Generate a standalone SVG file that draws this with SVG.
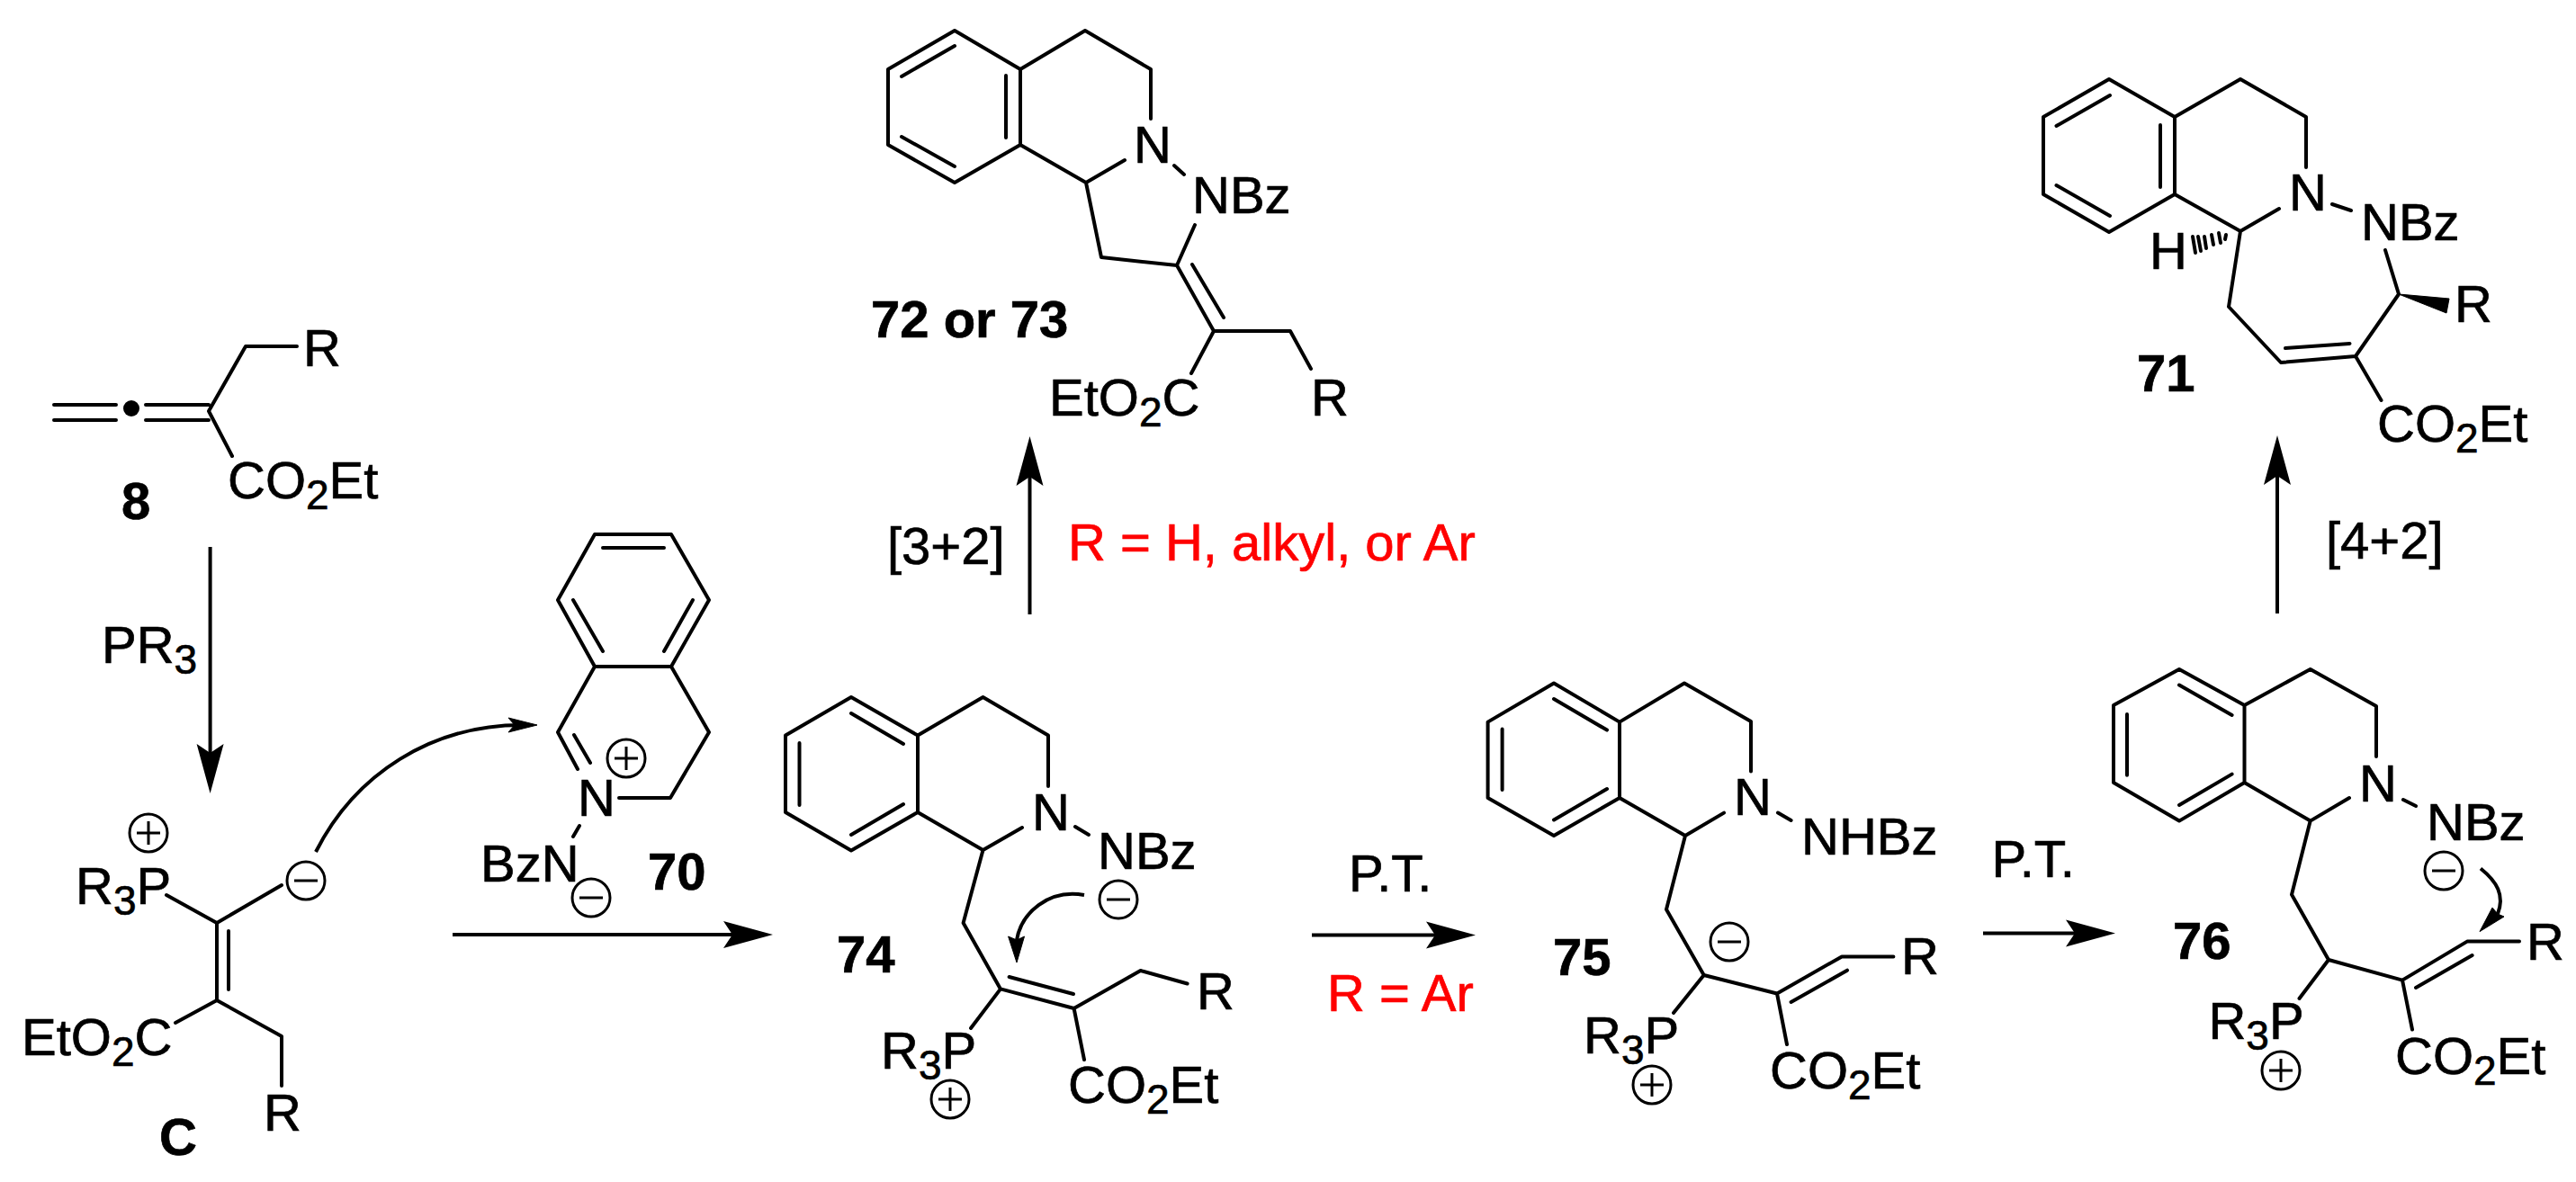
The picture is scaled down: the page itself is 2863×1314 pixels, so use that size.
<svg xmlns="http://www.w3.org/2000/svg" xmlns:xlink="http://www.w3.org/1999/xlink" width="2863" height="1314" viewBox="0 0 2863 1314">
<style>
.b{fill:none;stroke:#000;stroke-width:4;stroke-linecap:round;stroke-linejoin:round}
.a{fill:none;stroke:#000;stroke-width:4}
.h{fill:#000;stroke:#000;stroke-width:1;stroke-linejoin:miter}
.c{fill:none;stroke:#000;stroke-width:3}
text{font-family:"Liberation Sans",Arial,sans-serif;font-size:58px;fill:#000;stroke:#000;stroke-width:.7}
.n{font-weight:bold}
.r{fill:#ff0000;stroke:#ff0000}
.s{font-size:46px}
</style>
<defs>
<marker id="head" markerUnits="userSpaceOnUse" markerWidth="60" markerHeight="36" refX="10" refY="16" orient="auto" overflow="visible"><path d="M0,1 L55,16 L0,31 L10,16 Z" fill="#000"/></marker>
<g id="plus"><circle class="c" r="21"/><path class="c" d="M-13,0H13M0,-13V13"/></g>
<g id="minus"><circle class="c" r="21"/><path class="c" d="M-13,0H13" stroke-width="4"/></g>
</defs>
<rect width="2863" height="1314" fill="#fff"/>
<g id="connectors">
<line class="a" x1="233.6" y1="608" x2="233.6" y2="837" marker-end="url(#head)"/>
<line class="a" x1="503" y1="1039" x2="814" y2="1039" marker-end="url(#head)"/>
<line class="a" x1="1144.5" y1="683" x2="1144.5" y2="530" marker-end="url(#head)"/>
<line class="a" x1="2531" y1="682" x2="2531" y2="529" marker-end="url(#head)"/>
<line class="a" x1="1458" y1="1039.5" x2="1595" y2="1039.5" marker-end="url(#head)"/>
<line class="a" x1="2204" y1="1037.6" x2="2306" y2="1037.6" marker-end="url(#head)"/>
<path class="a" d="M351,947 C395,860 480,806 580,806"/>
<polygon class="h" points="565,798 597,806 565,814 572,806"/>
<path class="a" d="M1205,995 C1165,988 1135,1015 1130,1045"/>
<polygon class="h" points="1120.6,1041 1130,1045 1138.5,1041 1130,1070"/>
<path class="a" d="M2757,965.5 C2775,980 2784,995 2776,1016"/>
<polygon class="h" points="2770,1009 2776,1016 2783,1019 2756,1035.6"/>
</g>
<g id="compound-8">
<path class="b" d="M60,450H129M60,467H129M162,450H232M162,467H232M258,507L232,457L273,385H330"/>
<circle cx="146" cy="454" r="9" fill="#000"/>
<text x="337" y="407">R</text>
<text x="253" y="553.5">CO<tspan class="s" dy="12">2</tspan><tspan dy="-12">Et</tspan></text>
<text class="n" x="135" y="577">8</text>
</g>
<text id="label-pr3" x="113" y="736.5">PR<tspan class="s" dy="12">3</tspan></text>
<g id="compound-C">
<use xlink:href="#plus" href="#plus" x="165" y="926"/>
<text x="84" y="1005">R<tspan class="s" dy="12">3</tspan><tspan dy="-12">P</tspan></text>
<path class="b" d="M185,995L241,1026L313,984M241,1026V1112M254,1035V1100M195,1137L241,1112L313,1152V1207"/>
<use xlink:href="#minus" href="#minus" x="340" y="979"/>
<text x="24" y="1173">EtO<tspan class="s" dy="12">2</tspan><tspan dy="-12">C</tspan></text>
<text x="293" y="1257">R</text>
<text class="n" x="177" y="1284">C</text>
</g>
<g id="compound-70">
<path class="b" d="M661,594H746L788,667L746,741H661L620,667Z M670,609H738M637,667L670,724M770,667L738,724M661,741L620,814L642,855M638,817L656,848M746,741L788,814L745,887H688M644,918L637,930"/>
<text x="642" y="907">N</text>
<use xlink:href="#plus" href="#plus" x="696" y="843"/>
<text x="534" y="980">BzN</text>
<use xlink:href="#minus" href="#minus" x="657" y="998"/>
<text class="n" x="720" y="989">70</text>
</g>
<g id="compound-72-73">
<path class="b" d="M1061,34L1134,77V161L1061,203L987,161V77Z M1002,85L1061,51M1118,84V153M1002,152L1061,185M1134,77L1206,34L1279,77V132M1134,161L1207,203L1250,178M1305,184L1316,194M1207,203L1224,286L1308,295L1328,250M1308,295L1349,368M1325,294L1360,353M1324,415L1349,368H1434L1457,410"/>
<text x="1260" y="181">N</text>
<text x="1325" y="237">NBz</text>
<text x="1166" y="462">EtO<tspan class="s" dy="12">2</tspan><tspan dy="-12">C</tspan></text>
<text x="1457" y="462">R</text>
<text class="n" x="968" y="375">72 or 73</text>
</g>
<text id="label-32" x="986" y="627">[3+2]</text>
<text id="label-r-all" class="r" x="1187" y="623">R = H, alkyl, or Ar</text>
<g id="compound-71">
<path class="b" d="M2344,88L2417,130V216L2344,258L2271,216V130Z M2285.5,140L2345,106M2401,139V208M2285.5,206L2345,240M2417,130L2490,88L2563,130V186M2417,216L2490,257L2533,232M2592,227L2613,234M2490,257L2477,341L2535,403L2618,396L2666,327L2651,278M2540,387L2611.5,382M2618,396L2646.5,445"/>
<path class="b" stroke-width="3" d="M2474,261L2473,266M2466,259L2468,270M2458,261L2460,272M2450,263L2452,276M2443,263L2446,279M2437,263L2440,281"/>
<polygon points="2666,327 2722,332 2719,348" fill="#000" stroke="#000" stroke-width="1"/>
<text x="2544" y="234">N</text>
<text x="2624" y="266.5">NBz</text>
<text x="2389" y="299">H</text>
<text x="2728" y="358">R</text>
<text x="2642" y="491">CO<tspan class="s" dy="12">2</tspan><tspan dy="-12">Et</tspan></text>
<text class="n" x="2375" y="435">71</text>
</g>
<text id="label-42" x="2585" y="620.5">[4+2]</text>
<g id="compound-74">
<path class="b" d="M946,775L1020,817.5V903L946,945.5L873,903V817.5Z M946,793L1004,827M888.5,826V895M946,928L1004,894M1020,817.5L1092.5,775L1165,817.5V874M1020,903L1092.5,945L1136,920M1195,919L1210,928M1092.5,945L1070.6,1026L1112,1099.4L1193.6,1121L1267.6,1079L1319.6,1093.5M1121.6,1086L1193,1105M1112,1099.4L1079,1143M1193.6,1121L1205,1178"/>
<text x="1147" y="923">N</text>
<text x="1220" y="965.5">NBz</text>
<use xlink:href="#minus" href="#minus" x="1243" y="1000"/>
<text x="1330" y="1122">R</text>
<text x="979" y="1187.5">R<tspan class="s" dy="12">3</tspan><tspan dy="-12">P</tspan></text>
<use xlink:href="#plus" href="#plus" x="1056" y="1222"/>
<text x="1187" y="1225.5">CO<tspan class="s" dy="12">2</tspan><tspan dy="-12">Et</tspan></text>
<text class="n" x="930" y="1080.6">74</text>
</g>
<text id="label-pt1" x="1499" y="990.5">P.T.</text>
<text id="label-r-ar" class="r" x="1475" y="1124">R = Ar</text>
<g id="compound-75">
<path class="b" d="M1727,759.5L1800,802.6V887L1727,929L1653.6,887V802.6Z M1727,777L1786,811.6M1669.6,810.4V878M1727,911.5L1786,877M1800,802.6L1872,759.5L1946,802V857.5M1800,887L1873,929L1916,903.6M1976,903.6L1990.6,912M1873,929L1852,1011L1893.7,1084L1975,1104.5L2047,1063.4H2104.4M1990.6,1114L2053,1078.7M1893.7,1084L1860,1126M1975,1104.5L1986,1161"/>
<text x="1927" y="906.4">N</text>
<text x="2002" y="949.5">NHBz</text>
<use xlink:href="#minus" href="#minus" x="1922" y="1047"/>
<text x="2113" y="1083">R</text>
<text x="1760" y="1171">R<tspan class="s" dy="12">3</tspan><tspan dy="-12">P</tspan></text>
<use xlink:href="#plus" href="#plus" x="1836" y="1206"/>
<text x="1967" y="1210">CO<tspan class="s" dy="12">2</tspan><tspan dy="-12">Et</tspan></text>
<text class="n" x="1726" y="1084">75</text>
</g>
<text id="label-pt2" x="2213.5" y="975.3">P.T.</text>
<g id="compound-76">
<path class="b" d="M2422,744L2494.5,784V870L2422,912.6L2349,870V784Z M2422,761.5L2480.6,795M2364,794V861.7M2422,895L2480.6,860.6M2494.5,784L2567.7,744L2641,785V841M2494.5,870L2567.7,912.6L2611,887M2671,889L2685,896M2567.7,912.6L2547,994.5L2588,1067L2670,1089.6L2742,1046.6H2800M2685,1098L2747.6,1062M2588,1067L2555.5,1110M2670,1089.6L2681,1144.5"/>
<text x="2622" y="890.7">N</text>
<text x="2697" y="934">NBz</text>
<use xlink:href="#minus" href="#minus" x="2716" y="968"/>
<text x="2808" y="1067">R</text>
<text x="2454.4" y="1155.4">R<tspan class="s" dy="12">3</tspan><tspan dy="-12">P</tspan></text>
<use xlink:href="#plus" href="#plus" x="2535" y="1190"/>
<text x="2662" y="1194">CO<tspan class="s" dy="12">2</tspan><tspan dy="-12">Et</tspan></text>
<text class="n" x="2415" y="1066">76</text>
</g>
</svg>
